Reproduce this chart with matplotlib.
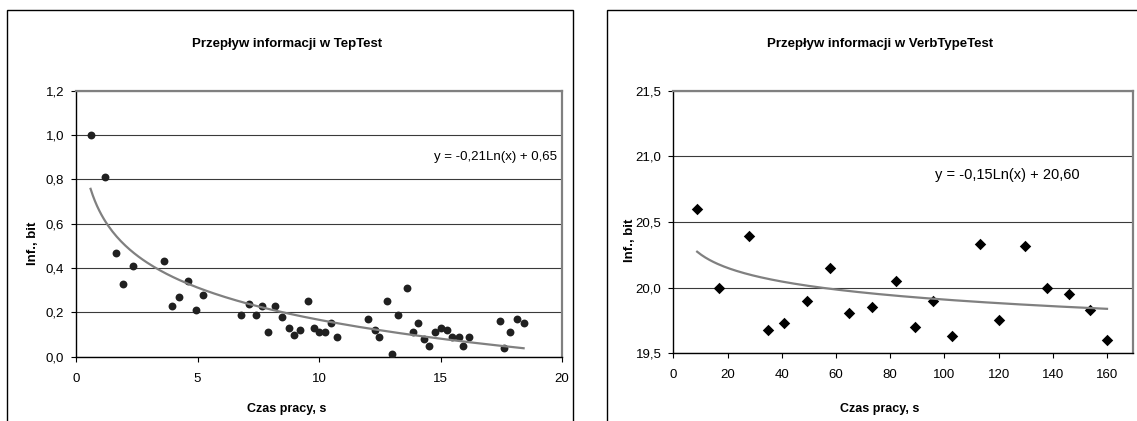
import numpy as np
import matplotlib
matplotlib.use("Agg")
import matplotlib.pyplot as plt
from matplotlib.patches import Rectangle
from matplotlib.ticker import FuncFormatter, MultipleLocator

plt.rcParams['font.family'] = ['Liberation Sans', 'DejaVu Sans']

# ---------------- data ----------------
tep_x = [0.60, 1.21, 1.63, 1.92, 2.36, 3.63, 3.95, 4.24, 4.61, 4.92, 5.23,
         6.79, 7.12, 7.41, 7.65, 7.90, 8.19, 8.49, 8.75, 8.98, 9.22, 9.53,
         9.78, 10.02, 10.26, 10.51, 10.76, 12.03, 12.29, 12.46, 12.81, 13.02,
         13.25, 13.61, 13.87, 14.09, 14.32, 14.51, 14.77, 15.01, 15.26, 15.49,
         15.75, 15.94, 16.19, 17.45, 17.61, 17.86, 18.13, 18.42]
tep_y = [1.00, 0.81, 0.47, 0.33, 0.41, 0.43, 0.23, 0.27, 0.34, 0.21, 0.28,
         0.19, 0.24, 0.19, 0.23, 0.11, 0.23, 0.18, 0.13, 0.10, 0.12, 0.25,
         0.13, 0.11, 0.11, 0.15, 0.09, 0.17, 0.12, 0.09, 0.25, 0.01,
         0.19, 0.31, 0.11, 0.15, 0.08, 0.05, 0.11, 0.13, 0.12, 0.09,
         0.09, 0.05, 0.09, 0.16, 0.04, 0.11, 0.17, 0.15]
tep_coef = (-0.21, 0.65)
tep_eq = "y = -0,21Ln(x) + 0,65"

verb_x = [8.8, 16.7, 27.8, 35.0, 40.9, 49.4, 57.8, 64.8, 73.3, 82.0, 89.0,
          95.9, 102.7, 113.1, 120.2, 129.9, 137.8, 145.8, 153.9, 160.0]
verb_y = [20.60, 20.00, 20.39, 19.68, 19.73, 19.90, 20.15, 19.81, 19.85, 20.05,
          19.70, 19.90, 19.63, 20.33, 19.75, 20.32, 20.00, 19.95, 19.83, 19.60]
verb_coef = (-0.15, 20.60)
verb_eq = "y = -0,15Ln(x) + 20,60"

titles = ["Przepływ informacji w TepTest", "Przepływ informacji w VerbTypeTest"]
xlabel = "Czas pracy, s"
ylabel = "Inf., bit"

# ---------------- figure ----------------
W, H = 1137, 421
fig = plt.figure(figsize=(W / 100, H / 100), dpi=100)

def fx(px):
    return px / W

def fy(py):
    return 1 - py / H

# chart boxes
fig.patches.append(Rectangle((fx(7), fy(430)), fx(573) - fx(7), fy(10) - fy(430),
                             transform=fig.transFigure, fill=False, lw=1.0, ec='black'))
fig.patches.append(Rectangle((fx(607), fy(430)), fx(1150) - fx(607), fy(10) - fy(430),
                             transform=fig.transFigure, fill=False, lw=1.0, ec='black'))

comma = FuncFormatter(lambda v, p: f"{v:.1f}".replace('.', ','))

def style(ax):
    ax.set_facecolor('white')
    for s in ['left', 'bottom']:
        ax.spines[s].set_color('black')
        ax.spines[s].set_linewidth(1.0)
    for s in ['top', 'right']:
        ax.spines[s].set_color('#808080')
        ax.spines[s].set_linewidth(1.6)
    ax.grid(axis='y', color='#3a3a3a', lw=0.8)
    ax.set_axisbelow(True)
    ax.tick_params(direction='out', length=3.5, width=0.8, labelsize=9.5, colors='black')
    ax.tick_params(axis='x', pad=8)
    ax.tick_params(axis='y', pad=5)
    ax.yaxis.set_major_formatter(comma)

# left chart
ax1 = fig.add_axes([fx(76), fy(356.7), fx(562) - fx(76), fy(90.7) - fy(356.7)])
style(ax1)
ax1.set_xlim(0, 20)
ax1.set_ylim(0, 1.2)
ax1.xaxis.set_major_locator(MultipleLocator(5))
ax1.yaxis.set_major_locator(MultipleLocator(0.2))
ax1.scatter(tep_x, tep_y, s=32, color='#202020', zorder=3, lw=0)
tx = np.linspace(min(tep_x), max(tep_x), 200)
ax1.plot(tx, tep_coef[0] * np.log(tx) + tep_coef[1], color='#808080', lw=1.6, zorder=4)
fig.text(fx(496), fy(157), tep_eq, ha='center', va='center', fontsize=9.5)

# right chart
ax2 = fig.add_axes([fx(673.3), fy(353.3), fx(1133.3) - fx(673.3), fy(90.7) - fy(353.3)])
style(ax2)
ax2.set_xlim(0, 169.7)
ax2.set_ylim(19.5, 21.5)
ax2.set_xticks(np.arange(0, 161, 20))
ax2.yaxis.set_major_locator(MultipleLocator(0.5))
ax2.scatter(verb_x, verb_y, marker='D', s=34, color='black', zorder=3, lw=0)
vx = np.linspace(min(verb_x), max(verb_x), 200)
ax2.plot(vx, verb_coef[0] * np.log(vx) + verb_coef[1], color='#808080', lw=1.6, zorder=4)
fig.text(fx(1007), fy(175), verb_eq, ha='center', va='center', fontsize=10.5)

# titles & labels
for cx, t in zip([287, 880], titles):
    fig.text(fx(cx), fy(44), t, ha='center', va='center', fontsize=9.5, fontweight='bold')
for cx in [287, 880]:
    fig.text(fx(cx), fy(409), xlabel, ha='center', va='center', fontsize=9, fontweight='bold')
fig.text(fx(33), fy(243), ylabel, ha='center', va='center', fontsize=9.5,
         fontweight='bold', rotation=90)
fig.text(fx(630), fy(240), ylabel, ha='center', va='center', fontsize=9.5,
         fontweight='bold', rotation=90)

fig.savefig('out.png', dpi=100, facecolor='white')
